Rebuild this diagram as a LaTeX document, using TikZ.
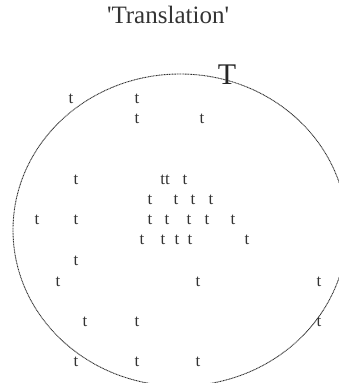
\documentclass[tikz,border=0pt]{standalone}
\usepackage{fontspec}
\usepackage{xcolor}
\usepackage{tikz}
\newfontfamily\timesface{Liberation Serif}
\definecolor{inkgray}{HTML}{333333}
\definecolor{rimgray}{HTML}{303030}

\begin{document}
\begin{tikzpicture}[
          x=1pt, y=-1pt,
          every node/.style={inner sep=0pt, text=inkgray},
          tok/.style={font=\timesface\fontsize{17}{17}\selectfont},
          rim/.style={draw=rimgray, dash pattern=on 1pt off 0.6pt, line width=0.9pt}
        ]
          \useasboundingbox (0,0) rectangle (339,383);
          \clip (0,0) rectangle (339,383);
          % title and domain
          \node[font=\timesface\fontsize{25}{25}\selectfont] (title) at (168,15)
            {\textquotesingle Translation\textquotesingle};
          \draw[rim] (180,230) ellipse [x radius=167pt, y radius=156pt];
          \node[font=\timesface\fontsize{30}{30}\selectfont, text=black!85] (bigT) at (227,75) {T};
          % scattered tokens
          \node[tok] (t1) at (71,99) {t};
          \node[tok] (t2) at (137,99) {t};
          \node[tok] (t3) at (137,119) {t};
          \node[tok] (t4) at (202,119) {t};
          \node[tok] (t5) at (76,180) {t};
          \node[tok] (t6) at (165,180) {tt};
          \node[tok] (t7) at (185,180) {t};
          \node[tok] (t8) at (150,200) {t};
          \node[tok] (t9) at (176,200) {t};
          \node[tok] (t10) at (193,200) {t};
          \node[tok] (t11) at (211,200) {t};
          \node[tok] (t12) at (37,220) {t};
          \node[tok] (t13) at (76,220) {t};
          \node[tok] (t14) at (150,220) {t};
          \node[tok] (t15) at (167,220) {t};
          \node[tok] (t16) at (189,220) {t};
          \node[tok] (t17) at (207,220) {t};
          \node[tok] (t18) at (233,220) {t};
          \node[tok] (t19) at (142,240) {t};
          \node[tok] (t20) at (163,240) {t};
          \node[tok] (t21) at (177,240) {t};
          \node[tok] (t22) at (190,240) {t};
          \node[tok] (t23) at (247,240) {t};
          \node[tok] (t24) at (76,261) {t};
          \node[tok] (t25) at (58,282) {t};
          \node[tok] (t26) at (198,282) {t};
          \node[tok] (t27) at (319,282) {t};
          \node[tok] (t28) at (85,322) {t};
          \node[tok] (t29) at (137,322) {t};
          \node[tok] (t30) at (319,322) {t};
          \node[tok] (t31) at (76,362) {t};
          \node[tok] (t32) at (137,362) {t};
          \node[tok] (t33) at (198,362) {t};
        \end{tikzpicture}
\end{document}
